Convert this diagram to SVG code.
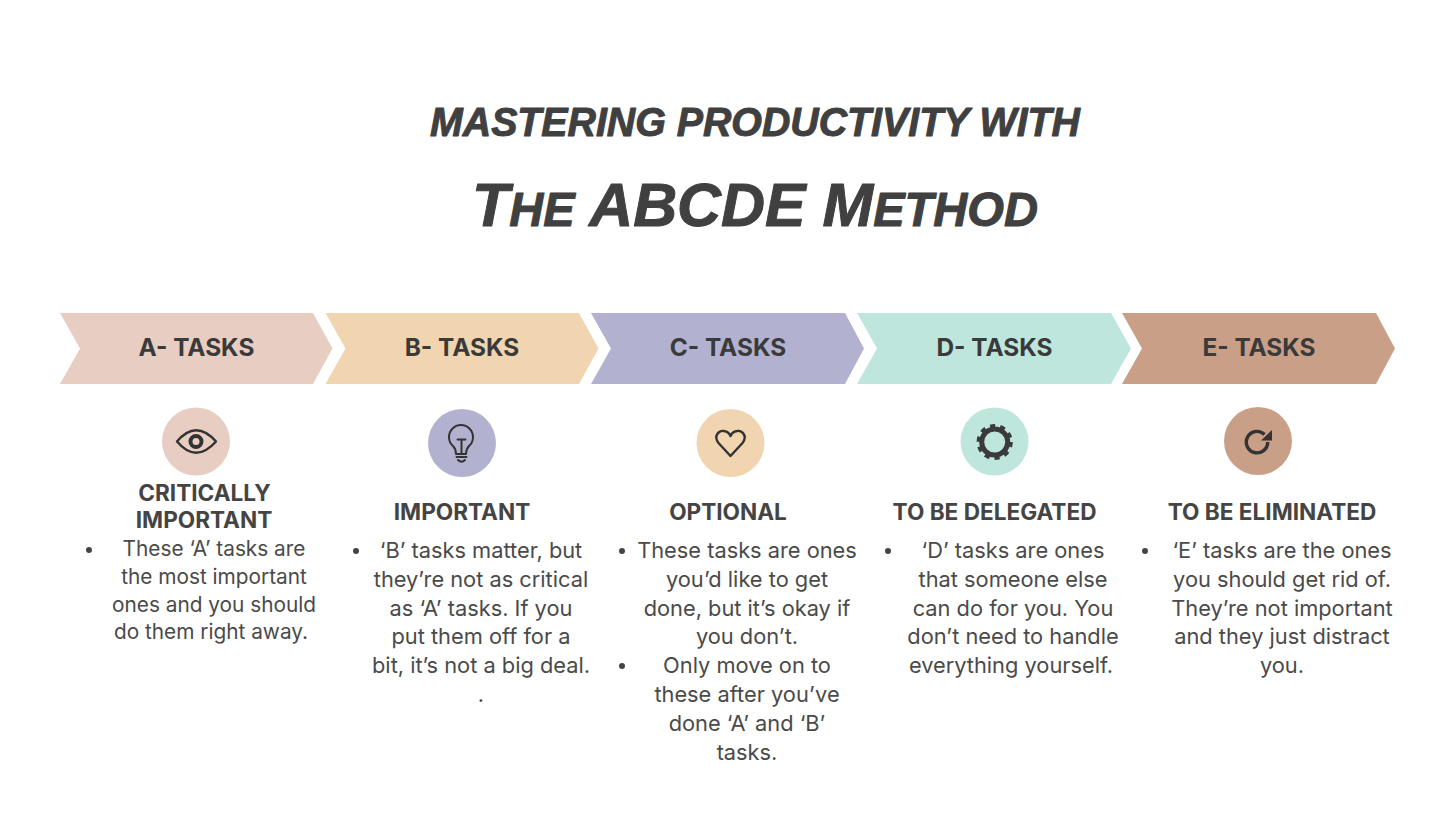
<svg xmlns="http://www.w3.org/2000/svg" width="1456" height="819" viewBox="0 0 1456 819">
<style>
.t{font-family:"Liberation Sans",Arial,sans-serif;font-weight:700;font-style:italic;fill:#404040;stroke:#404040;stroke-width:1;stroke-linejoin:round}
.h{font-family:Inter,"Liberation Sans",sans-serif;font-weight:700;font-size:24.400px;fill:#3a3a3a;text-anchor:middle}
.s{font-family:Inter,"Liberation Sans",sans-serif;font-weight:700;font-size:22.600px;fill:#444;text-anchor:middle}
.b{font-family:Inter,"Liberation Sans",sans-serif;font-size:21.800px;fill:#4a4a4a;text-anchor:middle}
.a{font-size:20.800px}
.d{fill:#444}
.i{fill:none;stroke:#333;stroke-width:2.400;stroke-linecap:round;stroke-linejoin:round}
</style>
<rect width="1456" height="819" fill="#fff"/>
<g id="title">
<text class="t" x="755" y="136" font-size="40" text-anchor="middle" textLength="650" lengthAdjust="spacingAndGlyphs">MASTERING PRODUCTIVITY WITH</text>
<text class="t" x="755" y="226" font-size="62" text-anchor="middle" textLength="566" lengthAdjust="spacingAndGlyphs" style="font-variant:small-caps">T<tspan font-size="68">he</tspan> ABCDE M<tspan font-size="68">ethod</tspan></text>
</g>
<g id="node-a">
<path d="M60 313H313L332.500 348.500L313 384H60L80 348.500Z" fill="#e8cdc3"/>
<text class="h" x="196.500" y="356">A- TASKS</text>
<circle cx="196" cy="441.500" r="34" fill="#e8cdc3"/>
<path class="i" d="M177 441.500Q196 419 216 441.500Q196 464 177 441.500Z"/><circle cx="196" cy="441.500" r="5.500" fill="none" stroke="#333" stroke-width="4"/>
<text class="s" x="204.500" y="500.500">CRITICALLY</text>
<text class="s" x="204" y="527.500">IMPORTANT</text>
<circle class="d" cx="89" cy="550" r="3"/>
<text class="b a" x="214" y="556">These ‘A’ tasks are</text>
<text class="b a" x="214" y="584">the most important</text>
<text class="b a" x="214" y="612">ones and you should</text>
<text class="b a" x="211" y="639">do them right away.</text>
</g>
<g id="node-b">
<path d="M325.500 313H579L598.500 348.500L579 384H325.500L345.500 348.500Z" fill="#f0d5b0"/>
<text class="h" x="462" y="356">B- TASKS</text>
<circle cx="462" cy="443" r="34" fill="#b2b1cf"/>
<path class="i" d="M456 454Q456 449 453 446A12 12 0 1 1 469 446Q466 449 466 454ZM457.500 439.500H465.500M461.500 439.500V453M456.500 457H466.500M458 460Q461.500 463.500 465 460" style="stroke-width:2"/>
<text class="s" x="462" y="519.500">IMPORTANT</text>
<circle class="d" cx="356" cy="551" r="3"/>
<text class="b" x="481" y="558">‘B’ tasks matter, but</text>
<text class="b" x="481" y="587">they’re not as critical</text>
<text class="b" x="481" y="616">as ‘A’ tasks. If you</text>
<text class="b" x="481" y="644">put them off for a</text>
<text class="b" x="481" y="673">bit, it’s not a big deal.</text>
<text class="b" x="481" y="702">.</text>
</g>
<g id="node-c">
<path d="M591 313H845L864 348.500L845 384H591L611 348.500Z" fill="#b2b1cf"/>
<text class="h" x="728" y="356">C- TASKS</text>
<circle cx="730.500" cy="443" r="34" fill="#f0d5b0"/>
<path class="i" d="M730.500 456L718.500 443C713 436 719 430 724 431C727 431.500 729.500 433 730.500 436C731.500 433 734 431.500 737 431C742 430 748 436 742.500 443Z"/>
<text class="s" x="728" y="519.500">OPTIONAL</text>
<circle class="d" cx="622" cy="551" r="3"/>
<text class="b" x="747" y="558">These tasks are ones</text>
<text class="b" x="747" y="587">you’d like to get</text>
<text class="b" x="747" y="616">done, but it’s okay if</text>
<text class="b" x="747" y="644">you don’t.</text>
<circle class="d" cx="622" cy="666" r="3"/>
<text class="b" x="747" y="673">Only move on to</text>
<text class="b" x="747" y="702">these after you’ve</text>
<text class="b" x="747" y="731">done ‘A’ and ‘B’</text>
<text class="b" x="747" y="760">tasks.</text>
</g>
<g id="node-d">
<path d="M857 313H1111L1131 348.500L1111 384H857L877 348.500Z" fill="#bfe6dd"/>
<text class="h" x="994.500" y="356">D- TASKS</text>
<circle cx="994.500" cy="441.500" r="34" fill="#bfe6dd"/>
<circle cx="994.700" cy="442" r="13" fill="none" stroke="#3a3a3a" stroke-width="5"/>
<circle cx="994.700" cy="442" r="16.500" fill="none" stroke="#3a3a3a" stroke-width="3.200" stroke-dasharray="5.180 5.180"/>
<text class="s" x="994.500" y="519.500">TO BE DELEGATED</text>
<circle class="d" cx="888" cy="551" r="3"/>
<text class="b" x="1013" y="558">‘D’ tasks are ones</text>
<text class="b" x="1013" y="587">that someone else</text>
<text class="b" x="1013" y="616">can do for you. You</text>
<text class="b" x="1013" y="644">don’t need to handle</text>
<text class="b" x="1011" y="673">everything yourself.</text>
</g>
<g id="node-e">
<path d="M1122 313H1376L1395 348.500L1376 384H1122L1142 348.500Z" fill="#c9a087"/>
<text class="h" x="1259" y="356">E- TASKS</text>
<circle cx="1258" cy="441" r="34" fill="#c9a087"/>
<path class="i" d="M1264.500 434.500A10.700 10.700 0 1 0 1267.700 442" style="stroke-width:3.400;stroke-linecap:butt"/><path d="M1272 430V440.500H1261Z" fill="#333"/>
<text class="s" x="1272" y="519.500">TO BE ELIMINATED</text>
<circle class="d" cx="1145" cy="551" r="3"/>
<text class="b" x="1282" y="558">‘E’ tasks are the ones</text>
<text class="b" x="1282" y="587">you should get rid of.</text>
<text class="b" x="1282" y="616">They’re not important</text>
<text class="b" x="1282" y="644">and they just distract</text>
<text class="b" x="1282" y="673">you.</text>
</g>
<g id="connectors"/>
</svg>
